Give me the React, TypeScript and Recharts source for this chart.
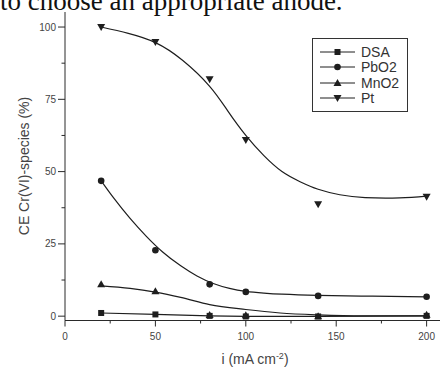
import {
  ComposedChart,
  Line,
  Scatter,
  XAxis,
  YAxis,
  Label,
} from "recharts";

// measured points
const currents = [20, 50, 80, 100, 140, 200];
const dsa = [1.1, 0.6, 0.1, -0.1, -0.1, 0.1];
const pbo2 = [46.8, 22.8, 11.0, 8.4, 7.0, 6.7];
const mno2 = [11.0, 8.6, 0.4, 0.3, 0.0, 0.5];
const pt = [100, 94.8, 81.9, 60.9, 38.7, 41.3];

// fitted curves
const ptFitX = [20, 35, 50, 65, 80, 90, 100, 110, 120, 130, 140, 152, 166, 185, 200];
const ptFitY = [100, 97.8, 94.6, 88.5, 79.5, 71, 62.5, 55.5, 50, 46.5, 43.9, 42.0, 41.0, 40.9, 41.5];
const pbFitX = [20, 27, 36, 45, 54, 64, 73, 82, 91, 100, 110, 120, 140, 170, 200];
const pbFitY = [46.8, 40.8, 33.8, 27.6, 22.2, 17.4, 13.9, 11.3, 9.6, 8.6, 8.0, 7.6, 7.2, 6.9, 6.7];
const mnFitX = [20, 36, 50, 64, 80, 100, 119, 140, 165, 200];
const mnFitY = [10.5, 9.6, 8.3, 6.5, 4.0, 2.3, 1.1, 0.45, 0.1, 0.1];

const xTicks = [0, 25, 50, 75, 100, 125, 150, 175, 200];
const yTicks = [0, 12.5, 25, 37.5, 50, 62.5, 75, 87.5, 100];
const seriesNames = ["DSA", "PbO2", "MnO2", "Pt"];

const toPoints = (xs: number[], ys: number[]) => xs.map((x, i) => ({ x, y: ys[i] }));

const INK = "#1e1e1e";
const AXIS = "#2a2a2a";
const TXT = "#444";
const SANS = "'Liberation Sans', Arial, sans-serif";

function Marker({ kind, cx, cy }: { kind: string; cx: number; cy: number }) {
  if (kind === "DSA") return <rect x={cx - 3} y={cy - 3} width={6} height={6} fill={INK} />;
  if (kind === "PbO2") return <circle cx={cx} cy={cy} r={3.3} fill={INK} />;
  if (kind === "MnO2")
    return <polygon points={`${cx},${cy - 4} ${cx - 4},${cy + 3} ${cx + 4},${cy + 3}`} fill={INK} />;
  return <polygon points={`${cx},${cy + 4} ${cx - 4},${cy - 3} ${cx + 4},${cy - 3}`} fill={INK} />;
}

const shapeFor = (kind: string) => (p: any) => <Marker kind={kind} cx={p.cx} cy={p.cy} />;

function XTick({ x, y, payload }: any) {
  const major = payload.value % 50 === 0;
  return (
    <g>
      <line x1={x} y1={y} x2={x} y2={y + (major ? 6 : 3)} stroke={AXIS} />
      {major && (
        <text x={x} y={y + 19} textAnchor="middle" fontSize={10} fill={TXT} fontFamily={SANS}>
          {payload.value}
        </text>
      )}
    </g>
  );
}

function YTick({ x, y, payload }: any) {
  const major = payload.value % 25 === 0;
  return (
    <g>
      <line x1={x} y1={y} x2={x - (major ? 7 : 3.5)} y2={y} stroke={AXIS} />
      {major && (
        <text x={x - 9} y={y + 3.5} textAnchor="end" fontSize={10} fill={TXT} fontFamily={SANS}>
          {payload.value}
        </text>
      )}
    </g>
  );
}

function LegendBox() {
  return (
    <div
      style={{
        position: "absolute",
        left: 312,
        top: 38,
        width: 82,
        border: "1px solid #333",
        padding: "5px 6px 5px 6px",
        background: "#fff",
        fontFamily: SANS,
        fontSize: 14,
        color: "#333",
      }}
    >
      {seriesNames.map((n) => (
        <div key={n} style={{ display: "flex", alignItems: "center", height: 15.5 }}>
          <svg width={38} height={12}>
            <line x1={1} y1={6} x2={36} y2={6} stroke={INK} />
            <Marker kind={n} cx={18.5} cy={6} />
          </svg>
          <span style={{ marginLeft: 4 }}>{n}</span>
        </div>
      ))}
    </div>
  );
}

export default function App() {
  const dsaPts = toPoints(currents, dsa);
  return (
    <div style={{ position: "fixed", left: 0, top: 0, width: 442, height: 369, background: "#fff", overflow: "hidden" }}>
      <div
        style={{
          position: "absolute",
          left: 0,
          top: -12,
          fontFamily: "'Liberation Serif', 'Times New Roman', serif",
          fontSize: 27,
          lineHeight: "27px",
          whiteSpace: "nowrap",
          color: "#111",
        }}
      >
        to choose an appropriate anode.
      </div>
      <ComposedChart width={442} height={369} margin={{ top: 12, right: 2, bottom: 18, left: 0 }}>
        <XAxis
          type="number"
          dataKey="x"
          domain={[0, 207.4]}
          ticks={xTicks}
          interval={0}
          allowDataOverflow
          tickLine={false}
          tickSize={0}
          tickMargin={0}
          tick={<XTick />}
          axisLine={{ stroke: AXIS }}
          height={30.5}
        >
          <Label
            content={() => (
              <text x={255} y={364} textAnchor="middle" fontSize={14} fill={TXT} fontFamily={SANS}>
                <tspan>i (mA cm</tspan>
                <tspan dy={-5} fontSize={9}>-2</tspan>
                <tspan dy={5}>)</tspan>
              </text>
            )}
          />
        </XAxis>
        <YAxis
          type="number"
          dataKey="y"
          domain={[-1.5, 105.2]}
          ticks={yTicks}
          interval={0}
          allowDataOverflow
          tickLine={false}
          tickSize={0}
          tickMargin={0}
          tick={<YTick />}
          axisLine={{ stroke: AXIS }}
          width={65}
        >
          <Label
            content={() => (
              <text
                x={29}
                y={166}
                transform="rotate(-90 29 166)"
                textAnchor="middle"
                fontSize={14}
                fill={TXT}
                fontFamily={SANS}
              >
                CE Cr(VI)-species (%)
              </text>
            )}
          />
        </YAxis>
        <Line data={dsaPts} dataKey="y" type="linear" stroke={INK} strokeWidth={1.2} dot={false} isAnimationActive={false} legendType="none" />
        <Line data={toPoints(pbFitX, pbFitY)} dataKey="y" type="natural" stroke={INK} strokeWidth={1.2} dot={false} isAnimationActive={false} legendType="none" />
        <Line data={toPoints(mnFitX, mnFitY)} dataKey="y" type="monotone" stroke={INK} strokeWidth={1.2} dot={false} isAnimationActive={false} legendType="none" />
        <Line data={toPoints(ptFitX, ptFitY)} dataKey="y" type="natural" stroke={INK} strokeWidth={1.2} dot={false} isAnimationActive={false} legendType="none" />
        <Scatter name="DSA" data={dsaPts} dataKey="y" shape={shapeFor("DSA")} isAnimationActive={false} />
        <Scatter name="PbO2" data={toPoints(currents, pbo2)} dataKey="y" shape={shapeFor("PbO2")} isAnimationActive={false} />
        <Scatter name="MnO2" data={toPoints(currents, mno2)} dataKey="y" shape={shapeFor("MnO2")} isAnimationActive={false} />
        <Scatter name="Pt" data={toPoints(currents, pt)} dataKey="y" shape={shapeFor("Pt")} isAnimationActive={false} />
      </ComposedChart>
      <LegendBox />
    </div>
  );
}
